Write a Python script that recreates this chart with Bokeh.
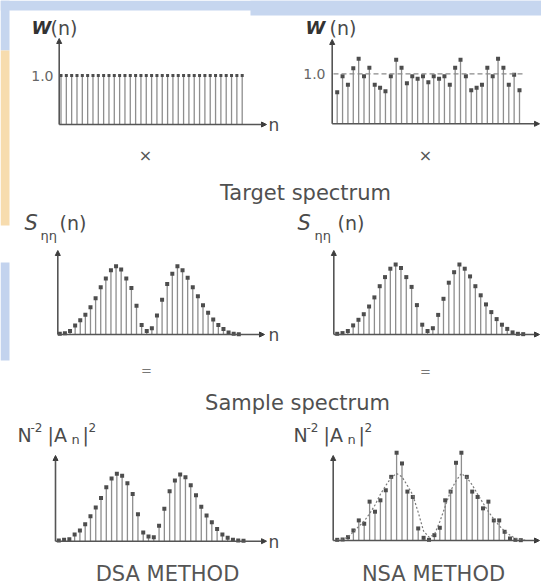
from bokeh.plotting import figure
from bokeh.models import Range1d, Arrow, NormalHead
from bokeh.core.properties import value
from bokeh.embed import file_html
from bokeh.resources import INLINE

# ---- data -------------------------------------------------------------
n35 = list(range(35))
n36 = list(range(36))

# weighting sequences W(n)
w_dsa = [1.0, 1.0, 1.0, 1.0, 1.0, 1.0, 1.0, 1.0, 1.0, 1.0, 1.0, 1.0,
         1.0, 1.0, 1.0, 1.0, 1.0, 1.0, 1.0, 1.0, 1.0, 1.0, 1.0, 1.0,
         1.0, 1.0, 1.0, 1.0, 1.0, 1.0, 1.0, 1.0, 1.0, 1.0, 1.0]
w_nsa = [0.63, 0.95, 0.78, 1.11, 1.30, 0.95, 1.12, 0.78, 0.72, 0.65, 0.95, 1.28,
         1.12, 0.81, 0.95, 0.90, 0.95, 0.83, 0.95, 0.90, 0.95, 0.78, 1.12, 1.28,
         0.95, 0.67, 0.72, 0.78, 1.12, 0.95, 1.30, 1.12, 0.78, 0.98, 0.67]

# target spectrum S_nn(n), two humps
s_target = [0.01, 0.02, 0.05, 0.13, 0.21, 0.29, 0.40, 0.53, 0.69, 0.82, 0.94, 1.00,
            0.95, 0.82, 0.68, 0.42, 0.14, 0.05, 0.09, 0.28, 0.51, 0.74, 0.89, 1.00,
            0.94, 0.83, 0.69, 0.56, 0.43, 0.32, 0.22, 0.14, 0.08, 0.03, 0.01, 0.005]

# sample spectra N^-2 |A_n|^2
a_dsa = [0.01, 0.02, 0.03, 0.10, 0.16, 0.25, 0.37, 0.50, 0.64, 0.80, 0.93, 1.00,
         0.97, 0.86, 0.70, 0.40, 0.13, 0.07, 0.06, 0.23, 0.48, 0.74, 0.90, 0.99,
         0.95, 0.83, 0.68, 0.51, 0.38, 0.28, 0.18, 0.10, 0.05, 0.02, 0.01, 0.005]
a_nsa = [0.01, 0.015, 0.05, 0.15, 0.30, 0.25, 0.58, 0.43, 0.60, 0.75, 0.95, 1.31,
         1.15, 0.73, 0.65, 0.18, 0.04, 0.01, 0.08, 0.19, 0.60, 0.73, 1.16, 1.31,
         0.95, 0.73, 0.65, 0.48, 0.58, 0.30, 0.30, 0.13, 0.03, 0.01, 0.005]

W, H = 541, 584
INK = "#4a4a4a"
BAR = "#8e8e8e"
DOT = "#4d4d4d"

p = figure(width=W, height=H, x_range=Range1d(0, W), y_range=Range1d(H, 0),
           output_backend="svg", toolbar_location=None, min_border=0,
           x_axis_location=None, y_axis_location=None)
p.grid.visible = False
p.outline_line_color = None
p.background_fill_color = "white"
p.border_fill_color = "white"

# slide backdrop around the scanned page
p.quad(left=[0, 250], right=[W, W], top=[0, 0], bottom=[10, 15],
       fill_color="#c6d6ef", line_color=None)
p.quad(left=[0, 0, 0], right=[9, 9, 9], top=[0, 50, 262], bottom=[50, 225, 360],
       fill_color=["#c6d6ef", "#f7dcae", "#c3d3ee"], line_color=None)


def x_map(i0, px0, i1, px1):
    s = (i1 - i0) / (px1 - px0)
    return Range1d(start=i0 - px0 * s, end=i0 + (W - px0) * s)


def y_map(py_zero, py_one):
    s = 1.0 / (py_zero - py_one)
    return Range1d(start=-(H - py_zero) * s, end=py_zero * s)


def stems(name, idx, vals, px_first, px_last, py_zero, py_one, dot_size=4):
    p.extra_x_ranges[name] = x_map(idx[0], px_first, idx[-1], px_last)
    p.extra_y_ranges[name] = y_map(py_zero, py_one)
    p.segment(x0=idx, y0=[0] * len(idx), x1=idx, y1=vals,
              x_range_name=name, y_range_name=name,
              line_color=BAR, line_width=1.3)
    p.scatter(x=idx, y=vals, marker="square", size=dot_size,
              x_range_name=name, y_range_name=name,
              fill_color=DOT, line_color=None)


def axes(x0, y0, ytop, xend):
    for xs, ys, xe, ye in [(x0, y0, x0, ytop), (x0, y0, xend, y0)]:
        p.add_layout(Arrow(end=NormalHead(size=5, fill_color="#3c3c3c", line_color="#3c3c3c"),
                           x_start=xs, y_start=ys, x_end=xe, y_end=ye,
                           line_color="#555555", line_width=1.6))


# row 1: weighting functions
stems("w1", n35, w_dsa, 60.5, 241.7, 124, 75, dot_size=3)
axes(58.7, 124, 38, 266)
stems("w2", n35, w_nsa, 336.7, 519.0, 123.3, 73.3)
# reference level 1.0 across the NSA weights
p.extra_x_ranges["w2ref"] = x_map(0, 333, 1, 525)
p.line(x=[0, 1], y=[1.0, 1.0], x_range_name="w2ref", y_range_name="w2",
       line_color="#8a8a8a", line_width=1.2, line_dash="5 3")
axes(331.7, 123.3, 39, 539)

# row 2: target spectra
stems("s1", n36, s_target, 59.3, 238.3, 334, 265.7)
axes(57.3, 334, 250, 264)
stems("s2", n36, s_target, 336.7, 522.7, 334, 264)
axes(333.3, 334, 250, 539)

# row 3: sample spectra
stems("a1", n36, a_dsa, 58.3, 243.0, 540.7, 473.3)
axes(55, 540.7, 455, 266)
stems("a2", n35, a_nsa, 336.7, 520.3, 540, 473)
p.line(x=n36, y=s_target, x_range_name="a2", y_range_name="a2",
       line_color="#7a7a7a", line_width=1.2, line_dash="2 2")
axes(332.7, 540, 455, 539)


def label(x, y, t, size, align="left", color=INK, style="normal", font="DejaVu Sans"):
    p.text(x=[x], y=[y], text=[t], text_font=value(font), text_font_size=f"{size}px",
           text_align=align, text_baseline="middle", text_color=color,
           text_font_style=style)


# axis titles
for xw, xn in [(31, 50), (305, 329)]:
    label(xw, 27, "W", 18, style="bold italic", color="#333333")
    label(xn, 27, "(n)", 19)
label(53, 75, "1.0", 14, align="right", color="#666666")
label(325, 73, "1.0", 14, align="right", color="#666666")

for xs, xe, xp in [(24, 40, 59), (297, 314, 337)]:
    label(xs, 222, "S", 21, style="italic")
    label(xe, 235, "ηη", 13)
    label(xp, 222, "(n)", 19)

# N^-2 |A_n|^2 assembled from its parts
for dx in [0, 276]:
    label(17 + dx, 434, "N", 19)
    label(30 + dx, 427, "-2", 12)
    label(47 + dx, 434, "|A", 19)
    label(71 + dx, 439, "n", 13)
    label(82 + dx, 434, "|", 19)
    label(88 + dx, 427, "2", 12)

for yy in [124, 334, 541]:
    label(268, yy, "n", 17)

# operators between rows
label(145, 155, "×", 16, align="center", color="#555555")
label(425, 155, "×", 16, align="center", color="#555555")
label(146, 370, "=", 13, align="center", color="#777777")
label(425, 371, "=", 13, align="center", color="#777777")

# row captions
label(305, 192, "Target spectrum", 21, align="center", color="#505050")
label(297, 402, "Sample spectrum", 21, align="center", color="#505050")
label(167, 573, "DSA METHOD", 21, align="center", color="#555555")
label(433, 573, "NSA METHOD", 21, align="center", color="#555555")

open("out.html", "w").write(file_html(p, INLINE))
